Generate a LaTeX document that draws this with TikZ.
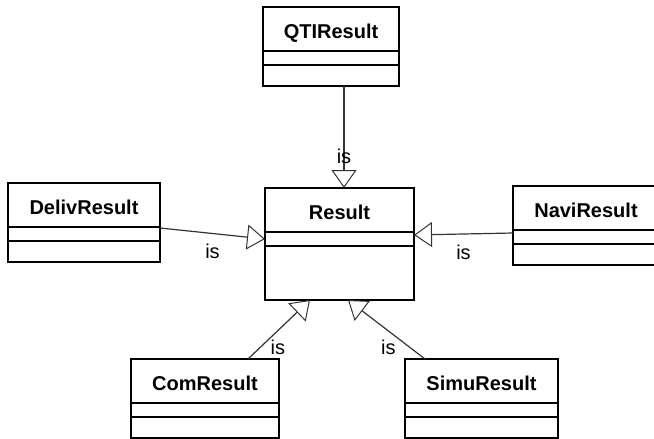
\documentclass[tikz,border=0pt]{standalone}
\usepackage{fontspec}
\setmainfont{Liberation Sans}
\usetikzlibrary{arrows.meta}

\begin{document}
\begin{tikzpicture}[x=1pt, y=-1pt,
    classbox/.style={draw, line width=2.5pt, outer sep=0pt, inner sep=0pt,
        text height=31pt, text depth=48pt,
        font=\fontsize{20}{24}\selectfont\bfseries},
    divider/.style={line width=1.2pt},
    isa/.style={draw=black!80, line width=1.2pt,
        -{Triangle[open, length=18pt, width=25pt, line width=1pt]}},
    islabel/.style={font=\fontsize{20}{24}\selectfont, inner sep=0pt}]

    \clip (0,0) rectangle (654,439);

    % classes
    \node[classbox, minimum width=136pt] (qti) at (331,46.5) {QTIResult};
    \node[classbox, minimum width=152pt] (deliv) at (84,222.5) {DelivResult};
    \node[classbox, minimum width=149pt, text depth=81pt] (result) at (339.5,244) {Result};
    \node[classbox, minimum width=146pt] (navi) at (586,225.5) {NaviResult};
    \node[classbox, minimum width=148pt] (com) at (205,398.5) {ComResult};
    \node[classbox, minimum width=153pt] (simu) at (481.5,398.5) {SimuResult};

    % attribute and operation compartments
    \foreach \c in {qti, deliv, result, navi, com, simu}
        \foreach \d in {44, 58}
            \draw[divider] ([yshift=-\d pt]\c.north west) -- ([yshift=-\d pt]\c.north east);

    % generalizations
    \draw[isa] ([xshift=13pt]qti.south) -- ([xshift=4.5pt]result.north)
        node[islabel, pos=0.69] {is};
    \draw[isa] ([yshift=-5.5pt]deliv.east) -- ([yshift=5pt]result.west)
        node[islabel, midway, yshift=-18pt] {is};
    \draw[isa] ([yshift=-7.5pt]navi.west) -- ([yshift=9pt]result.east)
        node[islabel, midway, yshift=-18pt] {is};
    \draw[isa] ([xshift=43pt]com.north) -- ([xshift=-29.5pt]result.south)
        node[islabel, pos=0.19, xshift=18pt] {is};
    \draw[isa] ([xshift=-56.5pt]simu.north) -- ([xshift=8.5pt]result.south)
        node[islabel, pos=0.19, xshift=-22pt] {is};

\end{tikzpicture}
\end{document}
